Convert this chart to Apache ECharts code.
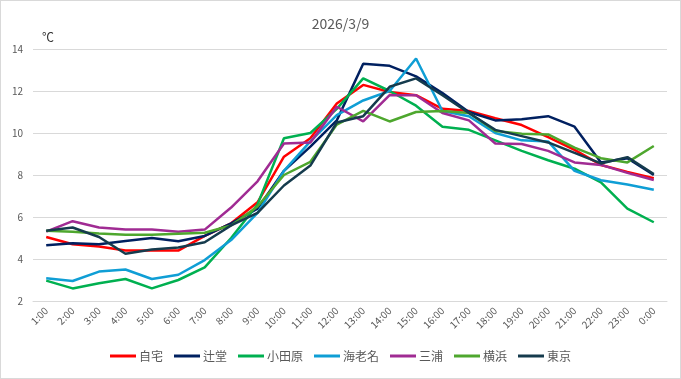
<!DOCTYPE html>
<html><head><meta charset="utf-8">
<script src="https://cdn.jsdelivr.net/npm/echarts@6/dist/echarts.min.js"></script>
<style>
html,body{margin:0;padding:0;background:#fff;}
#c{width:679px;height:377px;border:1px solid #d9d9d9;}
</style></head>
<body><div id="c"></div>
<script>
const categories = ['1:00','2:00','3:00','4:00','5:00','6:00','7:00','8:00','9:00','10:00','11:00','12:00','13:00','14:00','15:00','16:00','17:00','18:00','19:00','20:00','21:00','22:00','23:00','0:00'];
const yTicks = [2,4,6,8,10,12,14];
const jitaku   = [5.05,4.7,4.6,4.4,4.4,4.4,5.1,5.7,6.7,8.87,9.75,11.4,12.29,11.95,11.8,11.15,11.05,10.7,10.38,9.8,9.2,8.48,8.15,7.85];
const tsujido  = [4.65,4.75,4.7,4.86,5.0,4.85,5.1,5.7,6.4,8.2,9.35,10.6,13.3,13.2,12.7,11.9,11.0,10.6,10.65,10.8,10.3,8.6,8.8,8.0];
const odawara  = [2.97,2.6,2.85,3.05,2.6,3.0,3.6,5.0,6.6,9.75,10.0,11.15,12.6,12.0,11.3,10.3,10.15,9.65,9.15,8.7,8.3,7.65,6.4,5.75];
const ebina    = [3.08,2.95,3.4,3.5,3.05,3.25,3.95,4.9,6.2,8.2,9.6,10.85,11.55,12.0,13.55,11.05,10.8,10.0,9.65,9.6,8.2,7.75,7.55,7.3];
const miura    = [5.3,5.8,5.5,5.4,5.4,5.3,5.4,6.45,7.7,9.5,9.55,11.25,10.55,11.8,11.8,10.95,10.6,9.5,9.48,9.15,8.6,8.48,8.1,7.76];
const yokohama = [5.35,5.3,5.22,5.15,5.15,5.2,5.25,5.6,6.5,8.0,8.63,10.4,11.05,10.55,11.0,11.05,10.95,10.1,9.97,9.93,9.3,8.8,8.6,9.38];
const tokyo    = [5.35,5.5,5.05,4.25,4.45,4.55,4.8,5.6,6.2,7.5,8.45,10.5,10.8,12.2,12.6,11.8,10.95,10.15,9.85,9.55,9.05,8.55,8.85,8.05];
const seriesNames = ['自宅','辻堂','小田原','海老名','三浦','横浜','東京'];
const seriesData = [jitaku,tsujido,odawara,ebina,miura,yokohama,tokyo];
const colors = ['#FF0000','#002060','#00B050','#0F9ED5','#A02B93','#4EA72E','#153B4D'];
const font = '"Noto Sans CJK JP","Noto Sans",sans-serif';
const chart = echarts.init(document.getElementById('c'), null, {renderer:'canvas'});
chart.setOption({
  animation:false,
  textStyle:{fontFamily:font},
  title:[
    {text:'2026/3/9',left:'center',top:11,textStyle:{fontSize:14,fontWeight:'normal',color:'#595959',fontFamily:font}},
    {text:'℃',left:36,top:25,textStyle:{fontSize:12,fontWeight:'normal',color:'#333',fontFamily:font}}
  ],
  color:colors,
  legend:{
    data:seriesNames, bottom:11, left:'center', icon:'rect', itemWidth:26, itemHeight:3, itemGap:11,
    textStyle:{fontSize:12,color:'#595959',fontFamily:font,padding:[0,0,0,-2]}
  },
  grid:{left:32,right:13,top:48,bottom:77,containLabel:false},
  xAxis:{
    type:'category', data:categories, boundaryGap:true,
    axisLine:{show:true,lineStyle:{color:'#d9d9d9'}}, axisTick:{show:false},
    axisLabel:{rotate:45,fontSize:10,color:'#595959',interval:0,margin:8,fontFamily:font}
  },
  yAxis:{
    type:'value', min:yTicks[0], max:yTicks[yTicks.length-1], interval:2,
    axisLine:{show:false}, axisTick:{show:false},
    axisLabel:{fontSize:10,color:'#595959',margin:10,fontFamily:font},
    splitLine:{lineStyle:{color:'#d9d9d9',width:1}}
  },
  series: seriesNames.map((n,i)=>({
    name:n, type:'line', data:seriesData[i], symbol:'none', smooth:false,
    lineStyle:{width:2.5,color:colors[i]}, itemStyle:{color:colors[i]}
  }))
});
</script></body></html>
